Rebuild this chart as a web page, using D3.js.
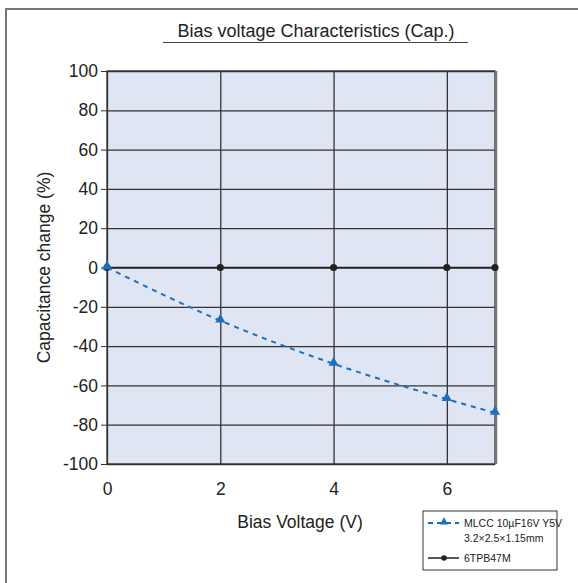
<!DOCTYPE html>
<html>
<head>
<meta charset="utf-8">
<script src="https://cdn.jsdelivr.net/npm/d3@7"></script>
<style>
  body { margin: 0; background: #fff; }
  text { font-family: "Liberation Sans", Arial, sans-serif; fill: #222; }
</style>
</head>
<body>
<div id="chart_container"></div>
<script>
// data
var voltages = [0, 2, 4, 6, 6.85];
var mlccValues = [0, -27, -49, -67, -74];
var tpbValues = [0, 0, 0, 0, 0];
var xTicks = [0, 2, 4, 6];
var yTicks = [-100, -80, -60, -40, -20, 0, 20, 40, 60, 80, 100];

var W = 578, H = 583;
var margin = { top: 71, right: 83, bottom: 119, left: 107 },
    width = W - margin.left - margin.right,
    height = H - margin.top - margin.bottom;

var x = d3.scaleLinear().domain([0, 6.85]).range([0, width]);
var y = d3.scaleLinear().domain([-100, 100]).range([height, 0]);

// plain hyphen for negatives, like the original
function fmt(d) { return String(d); }

var svg = d3.select("#chart_container").append("svg")
    .attr("width", W)
    .attr("height", H);

// outer frame
svg.append("path")
    .attr("d", "M6,583 V9 H578")
    .attr("fill", "none")
    .attr("stroke", "#777")
    .attr("stroke-width", 2);

// title with underline
svg.append("text")
    .attr("x", 316).attr("y", 37)
    .attr("text-anchor", "middle")
    .style("font-size", "18px")
    .text("Bias voltage Characteristics (Cap.)");
svg.append("line")
    .attr("x1", 163).attr("x2", 468)
    .attr("y1", 42.5).attr("y2", 42.5)
    .attr("stroke", "#444").attr("stroke-width", 1.2);

var g = svg.append("g")
    .attr("transform", "translate(" + margin.left + "," + margin.top + ")");

g.append("rect")
    .attr("width", width).attr("height", height)
    .attr("fill", "#dfe5f3");

// gridlines
g.append("g")
    .attr("class", "grid")
    .attr("transform", "translate(0," + height + ")")
    .call(d3.axisBottom(x).tickValues(xTicks).tickSize(-height).tickFormat(""))
    .call(function(s) {
        s.select(".domain").remove();
        s.selectAll("line").attr("stroke", "#333").attr("stroke-width", 1.3);
    });
g.append("g")
    .attr("class", "grid")
    .call(d3.axisLeft(y).tickValues(yTicks).tickSize(-width).tickFormat(""))
    .call(function(s) {
        s.select(".domain").remove();
        s.selectAll("line").attr("stroke", "#333").attr("stroke-width", 1.3);
    });

// frame of the plot
g.append("rect")
    .attr("width", width).attr("height", height)
    .attr("fill", "none")
    .attr("stroke", "#333").attr("stroke-width", 1.3);
g.append("line")
    .attr("x1", width + 1).attr("x2", width + 1)
    .attr("y1", 0).attr("y2", height)
    .attr("stroke", "#777").attr("stroke-width", 2.5);

// y axis labels and ticks
var yAxis = g.append("g")
    .call(d3.axisLeft(y).tickValues(yTicks).tickSize(6).tickPadding(3).tickFormat(fmt));
yAxis.select(".domain").remove();
yAxis.selectAll("line").attr("stroke", "#333");
yAxis.selectAll("text").style("font-size", "17.5px").attr("fill", "#222");

// x axis labels
var xAxis = g.append("g")
    .attr("transform", "translate(0," + height + ")")
    .call(d3.axisBottom(x).tickValues(xTicks).tickSize(0).tickPadding(19).tickFormat(fmt));
xAxis.select(".domain").remove();
xAxis.selectAll("text").style("font-size", "17.5px").attr("fill", "#222");

// axis titles
svg.append("text")
    .attr("transform", "translate(50," + (margin.top + y(0)) + ") rotate(-90)")
    .attr("text-anchor", "middle")
    .style("font-size", "17.5px")
    .text("Capacitance change (%)");
svg.append("text")
    .attr("x", 300).attr("y", 528)
    .attr("text-anchor", "middle")
    .style("font-size", "17.5px")
    .text("Bias Voltage (V)");

var line = d3.line()
    .x(function(d, i) { return x(voltages[i]); })
    .y(function(d) { return y(d); });

// 6TPB47M series
g.append("path")
    .datum(tpbValues)
    .attr("fill", "none")
    .attr("stroke", "#222")
    .attr("stroke-width", 1.6)
    .attr("d", line);
g.selectAll(".tpb")
    .data(tpbValues)
    .enter().append("circle")
    .attr("class", "tpb")
    .attr("cx", function(d, i) { return x(voltages[i]); })
    .attr("cy", function(d) { return y(d); })
    .attr("r", 3.6)
    .attr("fill", "#222");

// MLCC series
var blue = "#1a6fc0";
g.append("path")
    .datum(mlccValues)
    .attr("fill", "none")
    .attr("stroke", blue)
    .attr("stroke-width", 2)
    .attr("stroke-dasharray", "5,5")
    .attr("d", line.curve(d3.curveMonotoneX));
var tri = d3.symbol().type(d3.symbolTriangle).size(45);
g.selectAll(".mlcc")
    .data(mlccValues)
    .enter().append("path")
    .attr("class", "mlcc")
    .attr("d", tri)
    .attr("transform", function(d, i) {
        return "translate(" + x(voltages[i]) + "," + (y(d) - 1) + ")";
    })
    .attr("fill", blue);

// legend
var lg = svg.append("g").attr("transform", "translate(423,511)");
lg.append("rect")
    .attr("width", 134).attr("height", 59)
    .attr("fill", "#fff").attr("stroke", "#333").attr("stroke-width", 1);
lg.append("line")
    .attr("x1", 5).attr("x2", 36).attr("y1", 12).attr("y2", 12)
    .attr("stroke", blue).attr("stroke-width", 2).attr("stroke-dasharray", "5,4");
lg.append("path")
    .attr("d", d3.symbol().type(d3.symbolTriangle).size(30))
    .attr("transform", "translate(21,11)")
    .attr("fill", blue);
lg.append("text")
    .attr("x", 41).attr("y", 16)
    .style("font-size", "10.5px")
    .text("MLCC 10\u00b5F16V Y5V");
lg.append("text")
    .attr("x", 41).attr("y", 31)
    .style("font-size", "10.5px")
    .text("3.2\u00d72.5\u00d71.15mm");
lg.append("line")
    .attr("x1", 5).attr("x2", 36).attr("y1", 47).attr("y2", 47)
    .attr("stroke", "#222").attr("stroke-width", 1.5);
lg.append("circle")
    .attr("cx", 21).attr("cy", 47).attr("r", 2.8).attr("fill", "#222");
lg.append("text")
    .attr("x", 41).attr("y", 51)
    .style("font-size", "10.5px")
    .text("6TPB47M");
</script>
</body>
</html>
